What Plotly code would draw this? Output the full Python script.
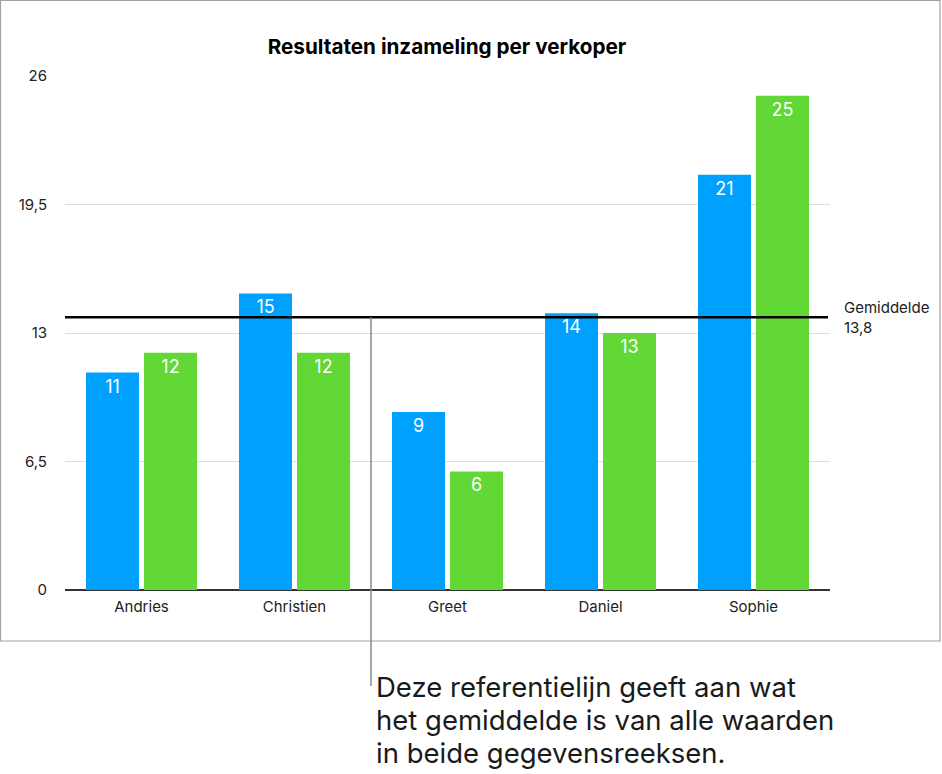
import plotly.graph_objects as go

verkopers = ["Andries", "Christien", "Greet", "Daniel", "Sophie"]
reeks_1 = [11, 15, 9, 14, 21]
reeks_2 = [12, 12, 6, 13, 25]
y_ticks = [0, 6.5, 13, 19.5, 26]
toelichting = [
    "Deze referentielijn geeft aan wat",
    "het gemiddelde is van alle waarden",
    "in beide gegevensreeksen.",
]

gemiddelde = sum(reeks_1 + reeks_2) / len(reeks_1 + reeks_2)

W, H = 942, 774
L, R, T, B = 65, 830, 76, 590  # plot area in pixels
FONT = "Inter, Liberation Sans, sans-serif"


def px(x):
    return (x - L) / (R - L)


def py(y):
    return (B - y) / (B - T)


label_font = dict(family=FONT, size=18, color="white")

data = [
    go.Bar(x=verkopers, y=reeks_1, marker=dict(color="#00A0FF", line=dict(width=0)),
           text=reeks_1, textposition="inside", insidetextanchor="end",
           textfont=label_font, textangle=0, name="Reeks 1"),
    go.Bar(x=verkopers, y=reeks_2, marker=dict(color="#61D836", line=dict(width=0)),
           text=reeks_2, textposition="inside", insidetextanchor="end",
           textfont=label_font, textangle=0, name="Reeks 2"),
]

annotations = [
    dict(xref="paper", yref="y", x=1, y=gemiddelde, xanchor="left", yanchor="middle",
         xshift=12, showarrow=False, align="left",
         text="Gemiddelde<br>" + f"{gemiddelde:.1f}".replace(".", ","),
         font=dict(size=15, color="#1a1a1a")),
]
for i, regel in enumerate(toelichting):
    annotations.append(
        dict(xref="paper", yref="paper", x=px(374), y=py(687 + 33 * i), xanchor="left",
             yanchor="middle", showarrow=False, align="left", text=regel,
             font=dict(size=27.5, color="#1a1a1a")))

layout = go.Layout(
    width=W, height=H,
    margin=dict(l=L, r=W - R, t=T, b=H - B, pad=0),
    paper_bgcolor="white", plot_bgcolor="white",
    showlegend=False,
    separators=",.",
    barmode="group", bargap=0.242, bargroupgap=0.086,
    font=dict(family=FONT, color="#1a1a1a"),
    title=dict(text="<b>Resultaten inzameling per verkoper</b>",
               xref="container", x=447 / W, xanchor="center",
               y=1 - 47 / H, yanchor="middle",
               font=dict(size=20.7, color="black")),
    xaxis=dict(showgrid=False, showline=False, zeroline=False,
               tickfont=dict(size=15, color="#222"), ticklabelstandoff=6),
    yaxis=dict(range=[0, 26], tickvals=y_ticks, showgrid=True, gridcolor="#dcdcdc",
               gridwidth=1, zeroline=True, zerolinecolor="#333", zerolinewidth=2,
               showline=False, tickfont=dict(size=15, color="#222"),
               ticklabelstandoff=17),
    shapes=[
        # kader rond de grafiek
        dict(type="rect", xref="paper", yref="paper",
             x0=px(0.5), x1=px(940), y0=py(0.5), y1=py(641),
             line=dict(color="#a0a0a0", width=1.2), layer="below"),
        # referentielijn
        dict(type="line", xref="paper", yref="y", x0=0, x1=px(828),
             y0=gemiddelde, y1=gemiddelde, line=dict(color="black", width=2.5)),
        # aanwijslijn
        dict(type="line", xref="paper", yref="paper", x0=0.4, x1=0.4,
             y0=gemiddelde / 26, y1=py(686), line=dict(color="#8a8a8a", width=1.5)),
    ],
    annotations=annotations,
)

fig = go.Figure(data=data, layout=layout)
fig.write_html("out.html", config={"displayModeBar": False},
               post_script="document.body.style.margin = '0';")
